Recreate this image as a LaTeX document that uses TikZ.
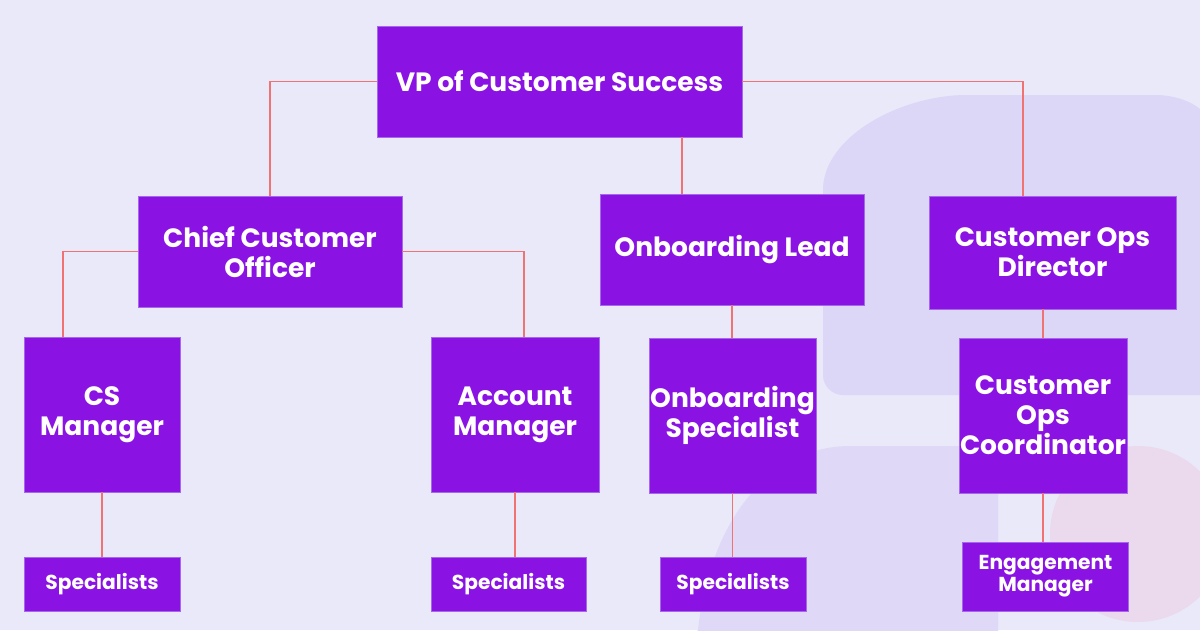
\documentclass[tikz,border=0pt]{standalone}
\usepackage{fontspec}
\setmainfont{Poppins}
\definecolor{bg}{HTML}{E9E9F9}
\definecolor{shapeA}{HTML}{DCD6F7}
\definecolor{shapeB}{HTML}{E0D8F7}
\definecolor{shapeC}{HTML}{EBD9EE}
\definecolor{boxfill}{HTML}{8A12E3}
\definecolor{boxedge}{HTML}{A468EC}
\definecolor{link}{HTML}{F07272}
\tikzset{
  orgbox/.style={fill=boxfill, draw=boxedge, line width=0.6pt, inner sep=0pt,
    text=white, align=center, font=\bfseries\fontsize{26.5}{30}\selectfont},
  smallbox/.style={orgbox, font=\bfseries\fontsize{20.2}{22}\selectfont},
  conn/.style={draw=link, line width=1.1pt}
}
\begin{document}
\begin{tikzpicture}[x=1pt,y=-1pt]
\useasboundingbox (0,0) rectangle (1200,630);
\fill[bg] (0,0) rectangle (1200,630);
% background shapes
\fill[shapeA] (823,375) -- (823,190) .. controls (823,137) and (900,95) .. (967,95)
  -- (1155,95) .. controls (1185,95) and (1215,110) .. (1215,140) -- (1215,395)
  -- (843,395) .. controls (832,395) and (823,386) .. (823,375) -- cycle;
\fill[shapeB] (690,640) -- (698,630) .. controls (710,520) and (770,446) .. (850,446)
  -- (988,446) .. controls (994,446) and (998,450) .. (998,456) -- (998,640) -- cycle;
\fill[shapeC] (1138,534) circle[radius=88];
% nodes
\node[orgbox, minimum width=365pt, minimum height=111pt] (vp) at (559.5,81.5) {VP of Customer Success};
\node[orgbox, minimum width=264pt, minimum height=111pt] (cco) at (270,251.5) {Chief Customer\\Officer};
\node[orgbox, minimum width=264pt, minimum height=111pt] (ol) at (732,249.5) {Onboarding Lead};
\node[orgbox, minimum width=247pt, minimum height=113pt] (cod) at (1052.5,252.5) {Customer Ops\\Director};
\node[orgbox, minimum width=156pt, minimum height=155pt] (csm) at (102,414.5) {CS\\Manager};
\node[orgbox, minimum width=168pt, minimum height=155pt] (am) at (515,414.5) {Account\\Manager};
\node[orgbox, minimum width=167pt, minimum height=155pt] (os) at (732.5,415.5) {Onboarding\\Specialist};
\node[orgbox, minimum width=168pt, minimum height=155pt] (coord) at (1043,415.5) {Customer\\Ops\\Coordinator};
\node[smallbox, minimum width=156pt, minimum height=54pt] (sp1) at (102,584) {Specialists};
\node[smallbox, minimum width=155pt, minimum height=54pt] (sp2) at (508.5,584) {Specialists};
\node[smallbox, minimum width=146pt, minimum height=54pt] (sp3) at (733,584) {Specialists};
\node[smallbox, minimum width=166pt, minimum height=69pt] (em) at (1045.5,576.5) {Engagement\\Manager};
% helper coordinates
\coordinate (vpb) at ([xshift=122.5pt]vp.south);
\coordinate (codt) at ([xshift=-29.5pt]cod.north);
\coordinate (csmt) at ([xshift=-39pt]csm.north);
\coordinate (amt) at ([xshift=9pt]am.north);
% connectors
\draw[conn] (vp.west) -| (cco.north);
\draw[conn] (vp.east) -| (codt);
\draw[conn] (vpb) -- (vpb |- ol.north);
\draw[conn] (cco.west) -| (csmt);
\draw[conn] (cco.east) -| (amt);
\draw[conn] (ol.south) -- (ol.south |- os.north);
\draw[conn] (coord.north) -- (coord.north |- cod.south);
\draw[conn] (csm.south) -- (sp1.north);
\draw[conn] (am.south) -- (am.south |- sp2.north);
\draw[conn] (os.south) -- (os.south |- sp3.north);
\draw[conn] (coord.south) -- (coord.south |- em.north);
\end{tikzpicture}
\end{document}
